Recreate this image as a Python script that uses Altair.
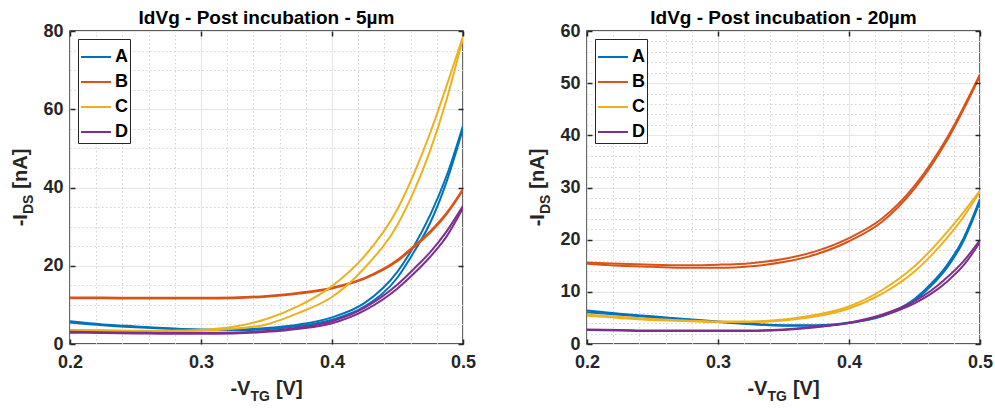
import altair as alt
import pandas as pd

# ---------------- data ----------------
VG = [0.2, 0.225, 0.25, 0.275, 0.3, 0.325, 0.35, 0.375, 0.4, 0.425, 0.45, 0.4625, 0.475, 0.4875, 0.5]
DEVICES = ["A", "B", "C", "D"]
COLORS = ["#0072BD", "#D95319", "#EDB120", "#7E2F8E"]

# 5 µm panel, forward / reverse sweep
A5_fwd = [5.8, 5.0, 4.5, 4.0, 3.7, 3.7, 4.1, 5.0, 6.8, 10.5, 18.5, 25.0, 33.0, 43.0, 55.8]
A5_rev = [5.5, 4.8, 4.3, 3.9, 3.6, 3.5, 3.8, 4.6, 6.2, 9.6, 17.0, 23.5, 31.0, 41.5, 55.0]
B5_fwd = [11.9, 11.9, 11.8, 11.8, 11.8, 11.9, 12.3, 13.1, 14.4, 16.9, 21.5, 25.0, 28.8, 33.5, 39.6]
B5_rev = [11.7, 11.7, 11.6, 11.6, 11.6, 11.7, 12.1, 12.9, 14.2, 16.7, 21.2, 24.7, 28.5, 33.2, 39.3]
C5_fwd = [3.6, 3.5, 3.4, 3.4, 3.6, 4.4, 6.4, 9.8, 14.8, 22.5, 34.5, 43.5, 54.0, 66.0, 78.6]
C5_rev = [3.5, 3.4, 3.3, 3.3, 3.4, 3.9, 5.0, 8.0, 12.0, 19.5, 30.5, 39.0, 49.5, 62.5, 78.2]
D5_fwd = [3.1, 3.0, 2.9, 2.8, 2.8, 2.9, 3.3, 4.2, 5.8, 9.3, 15.2, 19.2, 23.5, 28.8, 35.3]
D5_rev = [2.9, 2.8, 2.7, 2.6, 2.6, 2.7, 3.1, 3.9, 5.3, 8.6, 14.2, 18.0, 22.3, 27.5, 34.8]

# 20 µm panel, forward / reverse sweep
A20_fwd = [6.4, 5.8, 5.3, 4.8, 4.3, 3.9, 3.6, 3.6, 4.1, 5.4, 8.6, 11.5, 15.2, 20.3, 27.8]
A20_rev = [6.1, 5.6, 5.1, 4.6, 4.2, 3.8, 3.5, 3.5, 4.0, 5.3, 8.3, 11.1, 14.7, 19.8, 27.3]
B20_fwd = [15.6, 15.4, 15.2, 15.1, 15.2, 15.5, 16.3, 17.8, 20.3, 24.0, 30.3, 34.6, 39.6, 45.4, 51.7]
B20_rev = [15.4, 15.0, 14.8, 14.6, 14.6, 14.9, 15.7, 17.2, 19.7, 23.4, 29.8, 34.1, 39.1, 45.0, 51.4]
C20_fwd = [5.6, 5.2, 4.8, 4.5, 4.3, 4.3, 4.7, 5.6, 7.2, 10.3, 14.9, 18.0, 21.5, 25.3, 29.4]
C20_rev = [5.4, 5.0, 4.6, 4.4, 4.2, 4.2, 4.5, 5.3, 6.8, 9.6, 13.9, 16.9, 20.4, 24.4, 29.2]
D20_fwd = [2.8, 2.7, 2.6, 2.6, 2.6, 2.6, 2.8, 3.3, 4.1, 5.6, 8.2, 10.2, 12.8, 15.9, 19.9]
D20_rev = [2.7, 2.6, 2.5, 2.5, 2.5, 2.5, 2.7, 3.2, 4.0, 5.4, 7.8, 9.6, 12.0, 15.1, 19.5]

X_MAJOR = [0.2, 0.3, 0.4, 0.5]
X_MINOR = [0.22, 0.24, 0.26, 0.28, 0.32, 0.34, 0.36, 0.38, 0.42, 0.44, 0.46, 0.48]
Y5_MAJOR = [0, 20, 40, 60, 80]
Y5_MINOR = [5, 10, 15, 25, 30, 35, 45, 50, 55, 65, 70, 75]
Y20_MAJOR = [0, 10, 20, 30, 40, 50, 60]
Y20_MINOR = [2, 4, 6, 8, 12, 14, 16, 18, 22, 24, 26, 28, 32, 34, 36, 38,
             42, 44, 46, 48, 52, 54, 56, 58]

TITLE_5 = "IdVg - Post incubation - 5µm"
TITLE_20 = "IdVg - Post incubation - 20µm"

# ---------------- style ----------------
FONT = "Liberation Sans"
INK = "#262626"
W, H = 393, 313
MAIN, SUB = 20, 14
GAP = 6  # word space after the subscript
CHAR_W = {"-": 0.333, "V": 0.667, "T": 0.611, "G": 0.778, "[": 0.333,
          "]": 0.333, "I": 0.278, "D": 0.722, "S": 0.667, "n": 0.611, "A": 0.722}


def tw(s, size):
    return sum(CHAR_W.get(c, 0.6) for c in s) * size


def long_df(curves):
    rows = []
    for dev, fwd, rev in curves:
        for sweep, vals in (("fwd", fwd), ("rev", rev)):
            for x, y in zip(VG, vals):
                rows.append({"vg": x, "ids": y, "device": dev, "sweep": sweep})
    return pd.DataFrame(rows)


ONE = pd.DataFrame({"k": [0]})


def txt(s, size, x, y, angle=0, align="left", color=INK):
    return alt.Chart(ONE).mark_text(
        text=s, font=FONT, fontWeight="bold", fontSize=size, align=align,
        baseline="alphabetic", angle=angle, color=color
    ).encode(x=alt.value(x), y=alt.value(y))


def tick_axis(orient, offset, values):
    return alt.Axis(orient=orient, offset=offset, values=values, labels=False, ticks=True,
                    tickSize=5, tickWidth=1.5, tickColor=INK, domain=False, grid=False,
                    title=None, zindex=1)


def panel(df, title, ymax, ymajor, yminor):
    xs = alt.Scale(domain=[0.2, 0.5], nice=False, zero=False)
    ys = alt.Scale(domain=[0, ymax], nice=False, zero=False)
    base = alt.Chart(df)

    minor = base.mark_line(opacity=0).encode(
        x=alt.X("vg:Q", scale=xs, axis=alt.Axis(
            orient="top", values=X_MINOR, grid=True, gridDash=[1.5, 2.5], gridColor="#d4d4d4",
            gridWidth=1, labels=False, ticks=False, domain=False, title=None, zindex=0)),
        y=alt.Y("ids:Q", scale=ys, axis=alt.Axis(
            orient="right", values=yminor, grid=True, gridDash=[1.5, 2.5], gridColor="#d4d4d4",
            gridWidth=1, labels=False, ticks=False, domain=False, title=None, zindex=0)),
    )

    lines = base.mark_line(strokeWidth=2, interpolate="monotone", clip=True).encode(
        x=alt.X("vg:Q", scale=xs, axis=alt.Axis(
            orient="bottom", values=X_MAJOR, format=".1f", grid=True, gridColor="#e6e6e6",
            gridWidth=1.2, domain=False, ticks=False, labelPadding=9, labelFont=FONT,
            labelFontWeight="bold", labelFontSize=18, labelColor=INK, labelFlush=False,
            labelOverlap=False, title=None, zindex=0)),
        y=alt.Y("ids:Q", scale=ys, axis=alt.Axis(
            orient="left", values=ymajor, format="d", grid=True, gridColor="#e6e6e6",
            gridWidth=1.2, domain=False, ticks=False, labelPadding=7, labelFont=FONT,
            labelFontWeight="bold", labelFontSize=18, labelColor=INK, labelFlush=False,
            labelOverlap=False, title=None, zindex=0)),
        color=alt.Color("device:N", scale=alt.Scale(domain=DEVICES, range=COLORS),
                        legend=alt.Legend(
                            orient="none", legendX=8, legendY=8, title=None,
                            symbolType="stroke", symbolSize=900, symbolStrokeWidth=2,
                            labelFont=FONT, labelFontWeight="bold", labelFontSize=18,
                            labelColor="black", labelOffset=3, padding=2, rowPadding=-1.2,
                            strokeColor=INK, fillColor="white", cornerRadius=0)),
        detail="sweep:N",
    )

    ticks_a = base.mark_line(opacity=0).encode(
        x=alt.X("vg:Q", scale=xs, axis=tick_axis("top", -H, X_MAJOR)),
        y=alt.Y("ids:Q", scale=ys, axis=tick_axis("right", -W, ymajor)),
    )
    ticks_b = base.mark_line(opacity=0).encode(
        x=alt.X("vg:Q", scale=xs, axis=tick_axis("bottom", -H, X_MAJOR)),
        y=alt.Y("ids:Q", scale=ys, axis=tick_axis("left", -W, ymajor)),
    )

    # x-axis title: -V_TG [V]
    xp = [("-V", MAIN, 0, 0), ("TG", SUB, 6, GAP), ("[V]", MAIN, 0, 0)]
    total = sum(tw(s, f) + g for s, f, _, g in xp)
    cx = W / 2 - total / 2
    xtexts = []
    for s, f, d, g in xp:
        xtexts.append(txt(s, f, cx, H + 51 + d))
        cx += tw(s, f) + g

    # y-axis title: -I_DS [nA]  (rotated)
    yp = [("-I", MAIN, 0, 0), ("DS", SUB, 6, GAP), ("[nA]", MAIN, 0, 0)]
    total = sum(tw(s, f) + g for s, f, _, g in yp)
    cy = H / 2 + total / 2
    ytexts = []
    for s, f, d, g in yp:
        ytexts.append(txt(s, f, -43 + d, cy, angle=270))
        cy -= tw(s, f) + g

    ttl = txt(title, 19, W / 2, -7, align="center", color="black")

    return alt.layer(minor, lines, ticks_a, ticks_b, *xtexts, *ytexts, ttl).resolve_axis(
        x="independent", y="independent"
    ).properties(width=W, height=H)


df5 = long_df([("A", A5_fwd, A5_rev), ("B", B5_fwd, B5_rev),
               ("C", C5_fwd, C5_rev), ("D", D5_fwd, D5_rev)])
df20 = long_df([("A", A20_fwd, A20_rev), ("B", B20_fwd, B20_rev),
                ("C", C20_fwd, C20_rev), ("D", D20_fwd, D20_rev)])

left = panel(df5, TITLE_5, 80, Y5_MAJOR, Y5_MINOR)
right = panel(df20, TITLE_20, 60, Y20_MAJOR, Y20_MINOR)

chart = alt.hconcat(left, right, spacing=124, bounds="flush").resolve_scale(
    color="independent"
).properties(
    padding={"left": 10, "top": 8, "right": 0, "bottom": 0},
    background="white",
).configure_view(stroke=INK, strokeWidth=1.5)

chart.save("out.html", embed_options={"renderer": "svg", "actions": False})
